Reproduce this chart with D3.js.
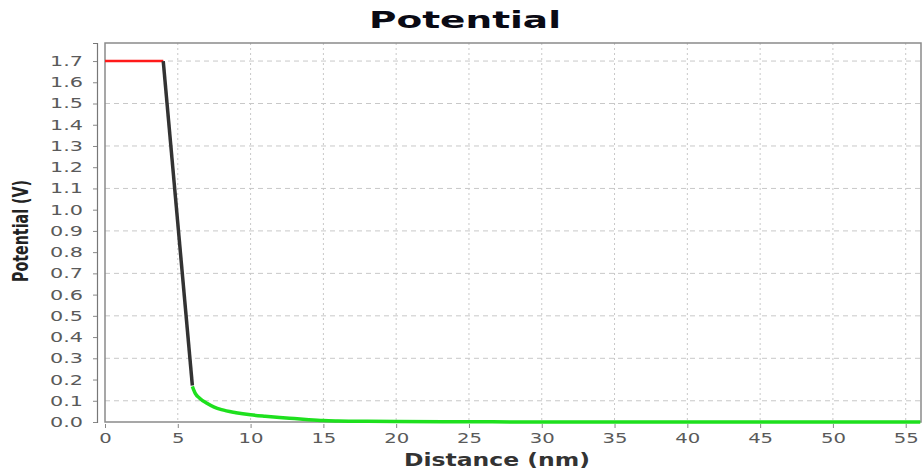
<!DOCTYPE html>
<html>
<head>
<meta charset="utf-8">
<script src="https://cdn.jsdelivr.net/npm/d3@7"></script>
<style>
body { margin: 0; background: #fff; }
text { font-family: "DejaVu Sans", Verdana, sans-serif; }
</style>
</head>
<body>
<script>
// data
var redX = [0, 4];
var redY = [1.7, 1.7];
var blackX = [4, 6];
var blackY = [1.7, 0.172];
var greenX = [6, 6.2, 6.5, 7, 7.5, 8, 9, 10, 11, 12, 13, 14, 15, 16, 18, 20, 25, 30, 40, 50, 56];
var greenY = [0.168, 0.135, 0.112, 0.088, 0.07, 0.058, 0.044, 0.034, 0.027, 0.021, 0.016, 0.011, 0.007, 0.005, 0.003, 0.002, 0.001, 0, 0, 0, 0];
var xTicks = [0, 5, 10, 15, 20, 25, 30, 35, 40, 45, 50, 55];
var yTicks = [0, 0.1, 0.2, 0.3, 0.4, 0.5, 0.6, 0.7, 0.8, 0.9, 1.0, 1.1, 1.2, 1.3, 1.4, 1.5, 1.6, 1.7];
var yGrid = [0.1, 0.3, 0.5, 0.7, 0.9, 1.1, 1.3, 1.5, 1.7];

var svgWidth = 923, svgHeight = 472;
var margin = {top: 43, right: 2, bottom: 50, left: 105};
var width = svgWidth - margin.left - margin.right;
var height = svgHeight - margin.top - margin.bottom;

var svg = d3.select("body").append("svg").attr("width", svgWidth).attr("height", svgHeight);
var chartGroup = svg.append("g").attr("transform", `translate(${margin.left}, ${margin.top})`);

var x = d3.scaleLinear().domain([0, 56.05]).range([0, width]);
var y = d3.scaleLinear().domain([0, 1.785]).range([height, 0]);

// grid
chartGroup.selectAll(".vgrid").data(xTicks.slice(1)).enter().append("line")
    .attr("x1", d => x(d)).attr("x2", d => x(d)).attr("y1", 0).attr("y2", height)
    .attr("stroke", "#c8c8c8").attr("stroke-width", 1).attr("stroke-dasharray", "2,3");
chartGroup.selectAll(".hgrid").data(yGrid).enter().append("line")
    .attr("x1", 0).attr("x2", width).attr("y1", d => y(d)).attr("y2", d => y(d))
    .attr("stroke", "#c8c8c8").attr("stroke-width", 1).attr("stroke-dasharray", "5,4");

// plot border
chartGroup.append("rect").attr("x", 0).attr("y", 0).attr("width", width).attr("height", height)
    .attr("fill", "none").attr("stroke", "#8a8a8a").attr("stroke-width", 1.5);

// axes
var leftAxis = d3.axisLeft(y).tickValues(yTicks).tickFormat(d3.format(".1f")).tickSize(4).tickPadding(10);
var bottomAxis = d3.axisBottom(x).tickValues(xTicks).tickSize(4).tickPadding(5);

var yAxisG = chartGroup.append("g").attr("transform", "translate(-8,0)").call(leftAxis);
var xAxisG = chartGroup.append("g").attr("transform", `translate(0,${height + 2})`).call(bottomAxis);
[yAxisG, xAxisG].forEach(function(g) {
    g.select(".domain").attr("stroke", "#777").attr("stroke-width", 1.2);
    g.selectAll(".tick line").attr("stroke", "#888");
    g.selectAll("text").attr("fill", "#5a5a5a").style("font-size", "14px")
        .style("font-family", "'DejaVu Sans', Verdana, sans-serif")
        .attr("lengthAdjust", "spacingAndGlyphs");
});
// the reference glyphs look stretched sideways
yAxisG.selectAll("text").attr("textLength", 33);
xAxisG.selectAll("text").attr("textLength", d => String(d).length * 12.5);
xAxisG.select(".domain").remove();

var line = d3.line().x(d => x(d[0])).y(d => y(d[1]));

chartGroup.append("path").datum(d3.zip(redX, redY)).attr("d", line)
    .attr("fill", "none").attr("stroke", "#ff1a1a").attr("stroke-width", 2.5);
chartGroup.append("path").datum(d3.zip(blackX, blackY)).attr("d", line)
    .attr("fill", "none").attr("stroke", "#333").attr("stroke-width", 3.5);
chartGroup.append("path").datum(d3.zip(greenX, greenY)).attr("d", d3.line().curve(d3.curveMonotoneX).x(d => x(d[0])).y(d => y(d[1])))
    .attr("fill", "none").attr("stroke", "#1ee01e").attr("stroke-width", 3.5);

// title
svg.append("text").attr("x", 465).attr("y", 28).attr("text-anchor", "middle")
    .style("font-size", "23px").style("font-weight", "bold").attr("fill", "#0a0a14")
    .attr("textLength", 192).attr("lengthAdjust", "spacingAndGlyphs").text("Potential");

// x-axis label
svg.append("text").attr("x", 497).attr("y", 466).attr("text-anchor", "middle")
    .style("font-size", "17px").style("font-weight", "bold").attr("fill", "#333")
    .attr("textLength", 186).attr("lengthAdjust", "spacingAndGlyphs").text("Distance (nm)");

// y-axis label
svg.append("text").attr("transform", "translate(28,231) rotate(-90)").attr("text-anchor", "middle")
    .style("font-size", "21px").style("font-weight", "bold").attr("fill", "#222")
    .style("font-family", "'DejaVu Sans Condensed', 'DejaVu Sans', sans-serif")
    .attr("textLength", 102).attr("lengthAdjust", "spacingAndGlyphs").text("Potential (V)");
</script>
</body>
</html>
